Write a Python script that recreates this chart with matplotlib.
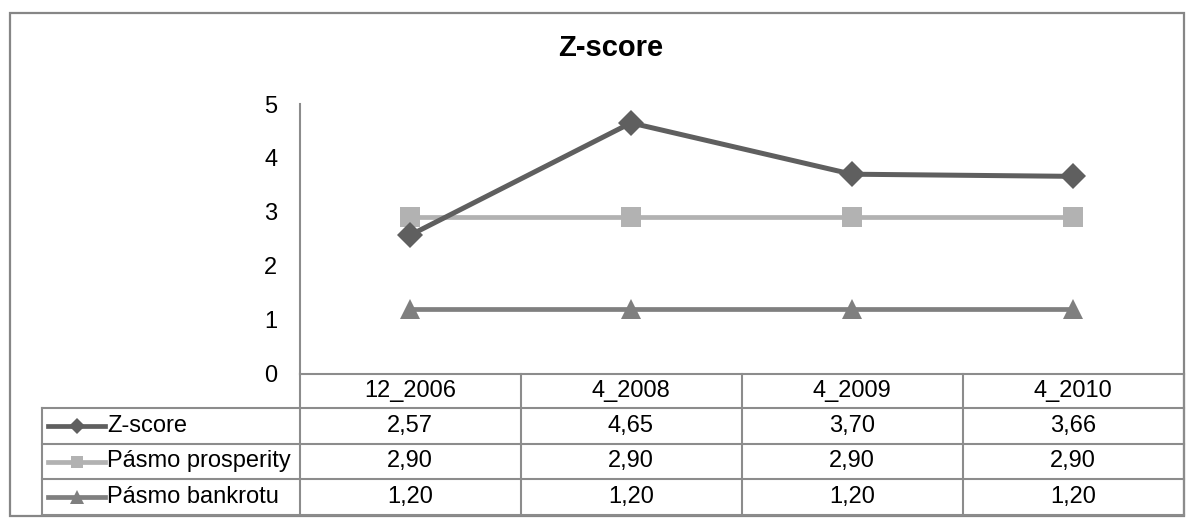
import matplotlib
matplotlib.use("Agg")
import matplotlib.pyplot as plt
from matplotlib.lines import Line2D
from matplotlib.patches import Rectangle
from matplotlib.transforms import blended_transform_factory

plt.rcParams['font.family'] = ['Liberation Sans', 'DejaVu Sans']

# ---- data ----
categories = ["12_2006", "4_2008", "4_2009", "4_2010"]
z_score = [2.57, 4.65, 3.70, 3.66]
pasmo_prosperity = [2.90, 2.90, 2.90, 2.90]
pasmo_bankrotu = [1.20, 1.20, 1.20, 1.20]
series_names = ["Z-score", "Pásmo prosperity", "Pásmo bankrotu"]
y_ticks = [0, 1, 2, 3, 4, 5]
title = "Z-score"

W, H = 1195, 527
fig = plt.figure(figsize=(W / 100, H / 100), dpi=100)


def fx(px):
    return px / W


def fy(py):
    return (H - py) / H


GRID = "#8c8c8c"
FS = 17
series = [
    (z_score, "#5f5f5f", "D", 13, 3.6, 3),
    (pasmo_prosperity, "#b2b2b2", "s", 14, 3.4, 2),
    (pasmo_bankrotu, "#7f7f7f", "^", 14.5, 3.4, 2),
]

# outer chart frame
fig.add_artist(Rectangle((fx(10), fy(516)), fx(1184) - fx(10), fy(13) - fy(516),
                         transform=fig.transFigure, fill=False,
                         edgecolor="#868686", linewidth=1.6))

# plot area
left, right, top, bottom = 299.5, 1183.5, 104, 374
ax = fig.add_axes([fx(left), fy(bottom), fx(right) - fx(left), fy(top) - fy(bottom)])
x = list(range(len(categories)))
for vals, col, mk, ms, lw, z in series:
    ax.plot(x, vals, color=col, marker=mk, markersize=ms, linewidth=lw,
            markeredgewidth=0, zorder=z, solid_joinstyle="round")

ax.set_xlim(-0.5, len(categories) - 0.5)
ax.set_ylim(y_ticks[0], y_ticks[-1])
ax.set_yticks(y_ticks)
ax.set_yticklabels([str(t) for t in y_ticks], fontsize=FS)
ax.tick_params(axis="y", length=0, pad=16)
ax.set_xticks([])
for s in ("top", "right", "bottom"):
    ax.spines[s].set_visible(False)
ax.spines["left"].set_color(GRID)
ax.spines["left"].set_linewidth(1.5)

fig.text(fx(611), fy(48), title, ha="center", va="center",
         fontsize=21, fontweight="bold")

# ---- data table ----
row_lines = [374, 408, 444, 479, 515]
label_left = 42
bt = blended_transform_factory(ax.transData, fig.transFigure)
n = len(categories)

# horizontal rules: header row spans the plot width, data rows include label column
fig.add_artist(Line2D([fx(left), fx(right)], [fy(row_lines[0])] * 2,
                      transform=fig.transFigure, color=GRID, lw=1.5))
for yy in row_lines[1:]:
    fig.add_artist(Line2D([fx(label_left), fx(right)], [fy(yy)] * 2,
                          transform=fig.transFigure, color=GRID, lw=1.5))
# vertical rules
fig.add_artist(Line2D([fx(left), fx(left)], [fy(row_lines[0]), fy(row_lines[-1])],
                      transform=fig.transFigure, color=GRID, lw=1.5))
fig.add_artist(Line2D([fx(label_left), fx(label_left)], [fy(row_lines[1]), fy(row_lines[-1])],
                      transform=fig.transFigure, color=GRID, lw=1.5))
for i in range(1, n + 1):
    fig.add_artist(Line2D([i - 0.5, i - 0.5], [fy(row_lines[0]), fy(row_lines[-1])],
                          transform=bt, color=GRID, lw=1.5))

# header labels
hy = (row_lines[0] + row_lines[1]) / 2
for i, c in enumerate(categories):
    fig.text(i, fy(hy), c, transform=bt, ha="center", va="center", fontsize=FS)

# data rows with legend keys
for r, (name, (vals, col, mk, ms, lw, z)) in enumerate(zip(series_names, series)):
    cy = fy((row_lines[r + 1] + row_lines[r + 2]) / 2)
    fig.add_artist(Line2D([fx(48), fx(77), fx(105)], [cy, cy, cy],
                          transform=fig.transFigure, color=col, lw=3.4,
                          marker=mk, markevery=[1], markersize=ms * 0.65,
                          markeredgewidth=0))
    fig.text(fx(107), cy, name, ha="left", va="center", fontsize=FS)
    for i, v in enumerate(vals):
        fig.text(i, cy, f"{v:.2f}".replace(".", ","), transform=bt,
                 ha="center", va="center", fontsize=FS)

fig.savefig("out.png", dpi=100)
